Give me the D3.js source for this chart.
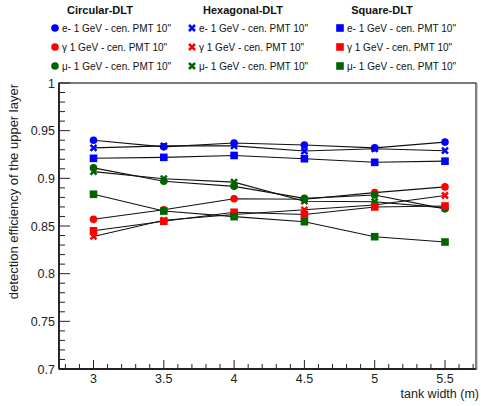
<!DOCTYPE html>
<html><head><meta charset="utf-8">
<script src="https://cdn.jsdelivr.net/npm/d3@7"></script>
<style>body{margin:0;background:#fff}svg{display:block;font-family:"Liberation Sans",Arial,sans-serif}</style>
</head><body><svg id="c" width="481" height="406"></svg>
<script>
const widths = [3, 3.5, 4, 4.5, 5, 5.5];
const xTicks = [3, 3.5, 4, 4.5, 5, 5.5];
const yTicks = [0.7, 0.75, 0.8, 0.85, 0.9, 0.95, 1];
const groups = ["Circular-DLT", "Hexagonal-DLT", "Square-DLT"];
const particles = ["e- 1 GeV - cen. PMT 10\"", "γ 1 GeV - cen. PMT 10\"", "μ- 1 GeV - cen. PMT 10\""];
const colors = ["#0000ff", "#ff0000", "#006400"];
const markers = ["circle", "cross", "square"];
const circE  = [0.940, 0.933, 0.937, 0.935, 0.932, 0.938];
const circG  = [0.857, 0.867, 0.8786, 0.878, 0.885, 0.891];
const circMu = [0.911, 0.897, 0.8916, 0.879, 0.8825, 0.868];
const hexE   = [0.932, 0.934, 0.934, 0.9286, 0.931, 0.929];
const hexG   = [0.839, 0.856, 0.862, 0.867, 0.872, 0.882];
const hexMu  = [0.907, 0.8996, 0.896, 0.876, 0.8755, 0.869];
const sqE    = [0.921, 0.922, 0.924, 0.9206, 0.9168, 0.918];
const sqG    = [0.845, 0.855, 0.8644, 0.862, 0.870, 0.871];
const sqMu   = [0.8833, 0.8657, 0.8598, 0.8545, 0.8388, 0.8332];
const seriesValues = [[circE, circG, circMu], [hexE, hexG, hexMu], [sqE, sqG, sqMu]];

const svg = d3.select("#c");
const L = 59, R = 476, T = 83, B = 369;
const x = d3.scaleLinear().domain([3, 5.5]).range([93.5, 445]);
const y = d3.scaleLinear().domain([0.7, 1]).range([B, T]);

// frame
svg.append("rect").attr("x", L).attr("y", T).attr("width", R - L).attr("height", B - T)
  .attr("fill", "none").attr("stroke", "#222").attr("stroke-width", 1.2);
svg.append("line").attr("x1", R + 1).attr("x2", R + 1).attr("y1", T).attr("y2", B + 1).attr("stroke", "#999").attr("stroke-width", 1);

// y ticks
const yMinor = d3.range(70, 101).map(v => v / 100);
svg.append("g").selectAll("line").data(yMinor).join("line")
  .attr("x1", L).attr("y1", d => y(d)).attr("y2", d => y(d))
  .attr("x2", d => (Math.round(d * 100) % 5 === 0) ? L + 11 : L + 6)
  .attr("stroke", "#222").attr("stroke-width", 1);
svg.append("g").selectAll("text").data(yTicks).join("text")
  .attr("x", 55).attr("y", d => y(d) + 4.5).attr("text-anchor", "end")
  .attr("font-size", 12.5).attr("fill", "#222").text(d => d3.format("")(d));

// x ticks
const x0 = x.invert(L), x1 = x.invert(R);
const xMinor = d3.range(Math.ceil(x0 * 10), Math.floor(x1 * 10) + 1).map(v => v / 10);
svg.append("g").selectAll("line").data(xMinor).join("line")
  .attr("x1", d => x(d)).attr("x2", d => x(d)).attr("y1", B)
  .attr("y2", d => (Math.round(d * 10) % 5 === 0) ? B - 9 : B - 5)
  .attr("stroke", "#222").attr("stroke-width", 1);
svg.append("g").selectAll("text").data(xTicks).join("text")
  .attr("x", d => x(d)).attr("y", 383).attr("text-anchor", "middle")
  .attr("font-size", 12.5).attr("fill", "#222").text(d => d3.format("")(d));
svg.append("line").attr("x1", L).attr("x2", R).attr("y1", B).attr("y2", B).attr("stroke", "#222").attr("stroke-width", 1.8);
svg.append("line").attr("x1", L).attr("x2", L).attr("y1", T).attr("y2", B).attr("stroke", "#222").attr("stroke-width", 1.8);

// axis titles
svg.append("text").attr("x", 479).attr("y", 398).attr("text-anchor", "end")
  .attr("font-size", 12.5).attr("fill", "#222").text("tank width (m)");
svg.append("text").attr("transform", "translate(18,84) rotate(-90)").attr("text-anchor", "end")
  .attr("font-size", 13).attr("fill", "#222").text("detection efficiency of the upper layer");

// markers
function drawMarker(g, type, cx, cy, color) {
  if (type === "circle") {
    g.append("circle").attr("cx", cx).attr("cy", cy).attr("r", 3.8).attr("fill", color);
  } else if (type === "square") {
    g.append("rect").attr("x", cx - 3.8).attr("y", cy - 3.8).attr("width", 7.6).attr("height", 7.6).attr("fill", color);
  } else {
    const s = 3;
    g.append("path").attr("d", `M${cx - s},${cy - s}L${cx + s},${cy + s}M${cx - s},${cy + s}L${cx + s},${cy - s}`)
      .attr("stroke", color).attr("stroke-width", 2.5).attr("fill", "none");
  }
}

const line = d3.line().x((d, i) => x(widths[i])).y(d => y(d));
const plot = svg.append("g");
groups.forEach((gname, gi) => {
  particles.forEach((p, pi) => {
    const vals = seriesValues[gi][pi];
    const g = plot.append("g");
    g.append("path").datum(vals).attr("d", line).attr("fill", "none").attr("stroke", "#111").attr("stroke-width", 1.1);
    vals.forEach((v, i) => drawMarker(g, markers[gi], x(widths[i]), y(v), colors[pi]));
  });
});

// legend
const colX = [55, 192, 340];
const headX = [100, 243, 382];
const rowY = [28, 47, 66];
groups.forEach((gname, gi) => {
  svg.append("text").attr("x", headX[gi]).attr("y", 14).attr("text-anchor", "middle")
    .attr("font-size", 11).attr("font-weight", "bold").attr("fill", "#111").text(gname);
  particles.forEach((p, pi) => {
    const lg = svg.append("g");
    drawMarker(lg, markers[gi], colX[gi], rowY[pi], colors[pi]);
    lg.append("text").attr("x", colX[gi] + 7).attr("y", rowY[pi] + 3.6)
      .attr("font-size", 10).attr("fill", "#111").text(p);
  });
});
</script></body></html>
